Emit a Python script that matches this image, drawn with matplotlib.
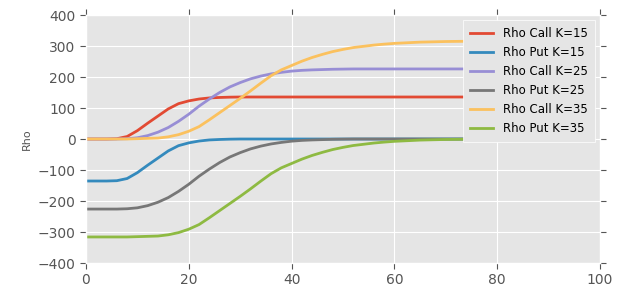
import numpy as np
import matplotlib
matplotlib.use("Agg")
import matplotlib.pyplot as plt

plt.style.use("ggplot")

# underlying price grid
S = list(range(0, 62, 2)) + [65, 70, 75, 80]

rho_call_15 = [0, 0, 0, 1, 8, 27, 51, 74, 97, 114, 123, 129, 132.5, 134, 135, 135.5] + [135.5] * 19
rho_put_15 = [-135.5, -135.5, -135.5, -134.5, -127.5, -108.5, -84.5, -61.5, -38.5, -21.5,
              -12.5, -6.5, -3, -1.5, -0.5, 0] + [0] * 19

rho_call_25 = [0, 0, 0, 0, 1, 4, 11, 22, 37, 57, 80, 106, 129, 150, 168, 182, 194, 203, 210,
               215, 219, 221.5, 223, 224, 225, 225.5, 226, 226, 226, 226, 226] + [226] * 4
rho_put_25 = [-226, -226, -226, -226, -225, -222, -215, -204, -189, -169, -146, -120, -97, -76,
              -58, -44, -32, -23, -16, -11, -7, -4.5, -3, -2, -1, -0.5, 0, 0, 0, 0, 0] + [0] * 4

rho_call_35 = [0, 0, 0, 0, 0, 1, 2, 3, 7, 14, 25, 40, 62, 85, 108, 131, 155, 180, 204, 223, 237,
               251, 263, 273, 282, 289, 295, 299, 303, 306, 308.5,
               312.5, 314.5, 315.5, 316]
rho_put_35 = [-316, -316, -316, -316, -316, -315, -314, -313, -309, -302, -291, -276, -254, -231,
              -208, -185, -161, -136, -112, -93, -79, -65, -53, -43, -34, -27, -21, -17, -13,
              -10, -7.5, -3.5, -1.5, -0.5, 0]

series = [
    (rho_call_15, "Rho Call K=15"),
    (rho_put_15, "Rho Put K=15"),
    (rho_call_25, "Rho Call K=25"),
    (rho_put_25, "Rho Put K=25"),
    (rho_call_35, "Rho Call K=35"),
    (rho_put_35, "Rho Put K=35"),
]

fig = plt.figure(figsize=(6.24, 2.99), dpi=100)
ax = fig.add_axes([0.1378, 0.1204, 0.8237, 0.8294])

for vals, lab in series:
    ax.plot(S, vals, lw=2, label=lab)

ax.set_xlim(0, 100)
ax.set_ylim(-400, 400)
ax.set_xticks([0, 20, 40, 60, 80, 100])
ax.set_yticks([-400, -300, -200, -100, 0, 100, 200, 300, 400])
ax.tick_params(labelsize=10, top=True, right=True, direction="out", length=4, color="#555555")
ax.set_ylabel("Rho", fontsize=8, color="#555555")
ax.yaxis.set_label_coords(-0.105, 0.5)

leg = ax.legend(loc="upper right", fontsize=8.5, fancybox=False, framealpha=1,
                facecolor="#E5E5E5", edgecolor="white", labelspacing=0.5,
                handlelength=2, handletextpad=0.8, borderpad=0.6,
                borderaxespad=0.45)

fig.savefig("out.png", dpi=100)
